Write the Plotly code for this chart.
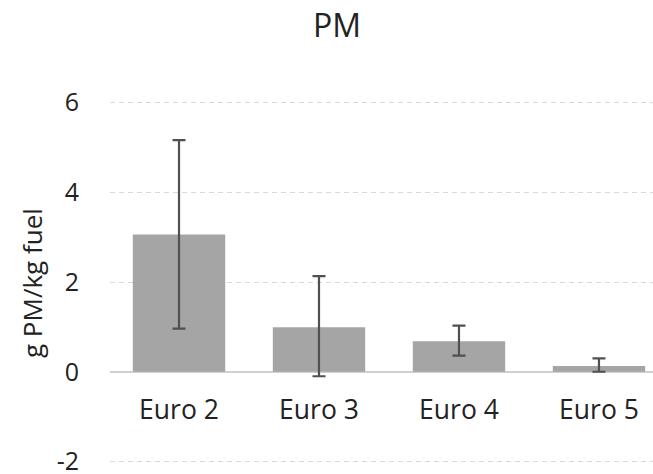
import plotly.graph_objects as go

categories = ["Euro 2", "Euro 3", "Euro 4", "Euro 5"]
values = [3.06, 0.99, 0.68, 0.13]
err_plus = [2.10, 1.14, 0.35, 0.17]
err_minus = [2.10, 1.09, 0.32, 0.13]
y_ticks = [-2, 0, 2, 4, 6]
y_tick_labels = ["-2", "0", "2", "4", "6"]

FONT = "Open Sans"
fig = go.Figure(go.Bar(
    x=categories, y=values,
    marker=dict(color="#a5a5a5", line=dict(width=0)),
    width=0.66,
    error_y=dict(type="data", symmetric=False, array=err_plus, arrayminus=err_minus,
                 color="#505050", thickness=2.2, width=6.5),
))

fig.update_layout(
    width=653, height=474,
    margin=dict(l=110, r=0, t=98, b=8, autoexpand=False),
    paper_bgcolor="white", plot_bgcolor="white",
    showlegend=False,
    title=dict(text="PM", x=0.516, xanchor="center", y=1 - 26/474, yanchor="middle",
               yref="container", automargin=False,
               font=dict(family=FONT, size=32, color="#222222")),
    font=dict(family=FONT, color="#222222"),
    xaxis=dict(
        anchor="free", position=2.1/8.2, automargin=False,
        range=[-0.493, 3.386],
        showgrid=False, showline=False, zeroline=False,
        ticks="", ticklabelstandoff=20,
        tickfont=dict(size=26.5, color="#222222"),
    ),
    yaxis=dict(
        range=[-2.1, 6.1], tickvals=y_ticks, ticktext=y_tick_labels, automargin=False,
        showgrid=True, gridcolor="#d9d9d9", gridwidth=1.3, griddash="5px,4px",
        zeroline=True, zerolinecolor="#d0d0d0", zerolinewidth=2,
        showline=False, ticks="", ticklabelstandoff=30, ticklabeloverflow="allow",
        tickfont=dict(size=25, color="#222222"),
    ),
    annotations=[dict(
        text="g PM/kg fuel", textangle=-90, showarrow=False,
        xref="paper", yref="paper", x=(32 - 110) / 543, y=(466 - 283) / 368,
        xanchor="center", yanchor="middle",
        font=dict(family=FONT, size=26, color="#222222"),
    )],
)

fig.write_html("out.html", config={"displayModeBar": False},
               post_script="document.body.style.margin='0';")
